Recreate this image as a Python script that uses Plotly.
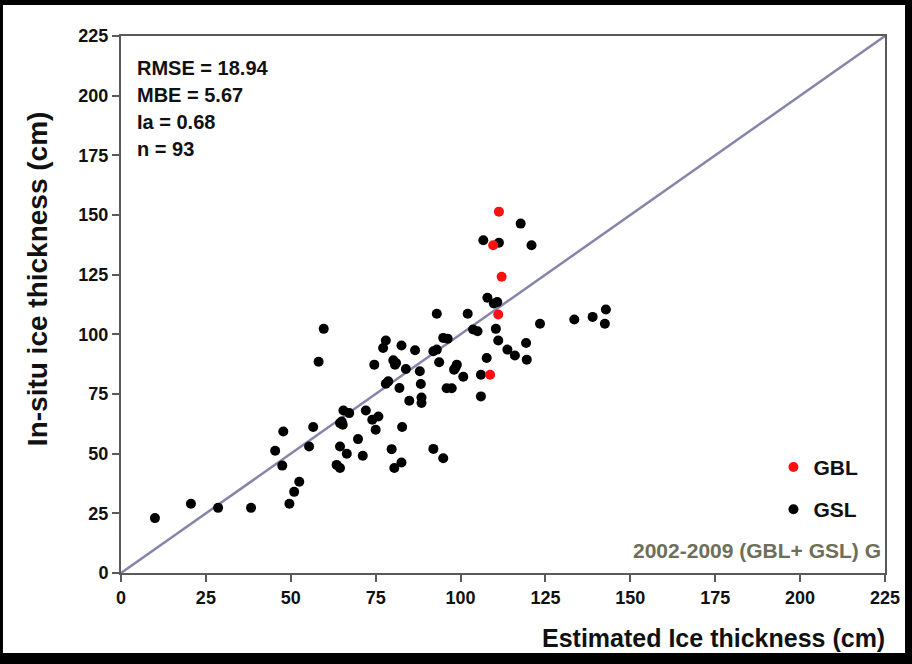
import plotly.graph_objects as go

# GSL (black) points: estimated ice thickness (x) vs in-situ (y)
gsl_x = [10, 20.6, 28.6, 38.3, 45.4, 47.8, 47.5, 49.6, 51, 52.5, 56.6, 55.4, 65.5, 67.2, 64.5, 65.3,
         64.5, 66.5, 63.5, 64.5, 69.8, 71.2, 72.1, 74, 75, 75.8, 59.7, 58.2, 78, 77.2, 82.6, 74.6,
         80.2, 80.7, 83.9, 78.7, 78, 82, 84.9, 107.9, 109.8, 93, 102.1, 123.4, 103.7, 105, 110.4,
         111.1, 94.9, 96.2, 119.3, 113.8, 116, 119.5, 107.7, 86.6, 92, 93, 93.7, 88, 98.9, 98.1,
         100.8, 106, 88.3, 95.9, 97.4, 88.5, 88.5, 106, 82.8, 79.7, 92, 94.9, 82.6, 80.5, 133.5,
         138.9, 142.8, 142.5, 117.7, 106.7, 111.3, 120.9, 65, 110.8, 81, 98.5]
gsl_y = [23, 29, 27.3, 27.3, 51.2, 59.3, 45, 29, 34, 38.2, 61.2, 53, 68.1, 67, 62.8, 62.1,
         53, 50, 45.3, 44, 56.1, 49.1, 68.1, 64.2, 60, 65.6, 102.3, 88.5, 97.4, 94.3, 95.3, 87.3,
         89.1, 87.3, 85.5, 80.3, 79.3, 77.5, 72.2, 115.3, 112.9, 108.6, 108.6, 104.4, 102, 101.3, 102.3,
         97.4, 98.5, 98.2, 96.4, 93.6, 91.1, 89.4, 90.1, 93.3, 92.9, 93.6, 88.3, 84.5, 87.3, 85.2,
         82.2, 83.1, 79.2, 77.4, 77.4, 73.5, 71.2, 74, 61.2, 51.9, 52, 48.1, 46.3, 44, 106.2,
         107.3, 110.4, 104.4, 146.4, 139.4, 138.4, 137.3, 63.5, 113.5, 88, 86]

# GBL (red) points
gbl_x = [111.3, 109.6, 112.1, 111.1, 108.7]
gbl_y = [151.4, 137.3, 124.1, 108.3, 83.1]

one_to_one = [0, 225]
tick_vals = [0, 25, 50, 75, 100, 125, 150, 175, 200, 225]
stats_lines = ["RMSE = 18.94", "MBE = 5.67", "Ia = 0.68", "n = 93"]

FONT = "Liberation Sans, Arial, sans-serif"

fig = go.Figure()
fig.add_trace(go.Scatter(x=one_to_one, y=one_to_one, mode="lines",
                         line=dict(color="#8585aa", width=2.5), showlegend=False, hoverinfo="skip"))
fig.add_trace(go.Scatter(x=gsl_x, y=gsl_y, mode="markers", name="GSL",
                         marker=dict(color="black", size=10), legendgroup="b", legendrank=2))
fig.add_trace(go.Scatter(x=gbl_x, y=gbl_y, mode="markers", name="GBL",
                         marker=dict(color="#ff1010", size=10), legendgroup="a", legendrank=1))

axis_common = dict(range=[0, 225], tickvals=tick_vals, showgrid=False, zeroline=False,
                   showline=True, linecolor="#5a5a5a", linewidth=2, mirror=True,
                   ticks="outside", ticklen=7, tickwidth=1.5, tickcolor="#5a5a5a",
                   tickfont=dict(family=FONT, size=18, color="#111111", weight="bold"))

fig.update_layout(
    width=912, height=664,
    margin=dict(l=121, r=27, t=36, b=91),
    paper_bgcolor="black", plot_bgcolor="white",
    xaxis=dict(**axis_common),
    yaxis=dict(**axis_common),
    legend=dict(x=0.854, y=0.235, xanchor="left", yanchor="top",
                font=dict(family=FONT, size=21, color="#111111", weight="bold"),
                bgcolor="rgba(0,0,0,0)", traceorder="grouped", tracegroupgap=12,
                itemsizing="trace"),
    showlegend=True,
)

# white page area inside the black border
fig.add_shape(type="rect", xref="paper", yref="paper", x0=-0.1545, x1=1.0262, y0=-0.149, y1=1.0577,
              fillcolor="white", line=dict(width=0), layer="below")

ys = [0.9404, 0.8901, 0.8399, 0.7896]
for t, yy in zip(stats_lines, ys):
    fig.add_annotation(text=t, xref="paper", yref="paper", x=0.0183, y=yy, xanchor="left",
                       yanchor="middle", showarrow=False,
                       font=dict(family=FONT, size=20, color="#111111", weight="bold"))

fig.add_annotation(text="2002-2009 (GBL+ GSL) G", xref="paper", yref="paper", x=0.9974, y=0.0428,
                   xanchor="right", yanchor="middle", showarrow=False,
                   font=dict(family=FONT, size=21, color="#6e6e5a", weight="bold"))

fig.add_annotation(text="Estimated Ice thickness (cm)", xref="paper", yref="paper", x=1.0026, y=-0.121,
                   xanchor="right", yanchor="middle", showarrow=False,
                   font=dict(family=FONT, size=25, color="#111111", weight="bold"))
fig.add_annotation(text="In-situ ice thickness (cm)", xref="paper", yref="paper", x=-0.11, y=0.549,
                   xanchor="center", yanchor="middle", textangle=-90, showarrow=False,
                   font=dict(family=FONT, size=28, color="#111111", weight="bold"))

fig.write_html("out.html")
